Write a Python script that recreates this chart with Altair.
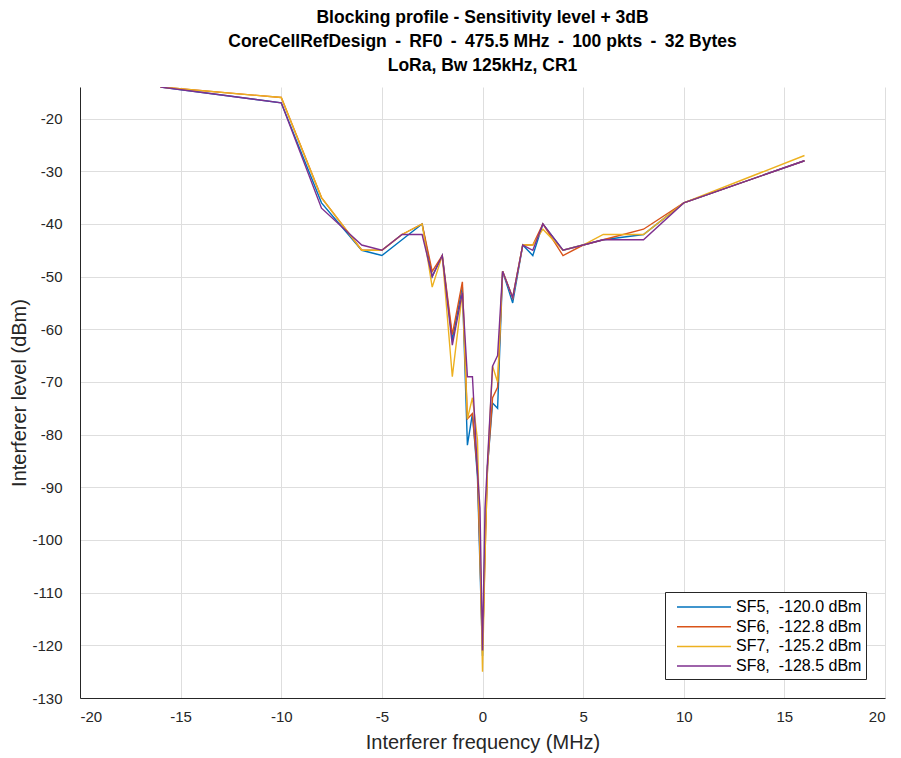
import altair as alt
import pandas as pd

# Interferer frequency offsets (MHz)
freq = [-16, -10, -8, -6, -5, -4, -3, -2.5, -2, -1.5, -1, -0.75, -0.5, -0.25, -0.125, 0,
        0.125, 0.25, 0.5, 0.75, 1, 1.5, 2, 2.5, 3, 4, 5, 6, 8, 10, 16]

# Interferer levels (dBm) per spreading factor
sf5 = [-14, -17, -36, -45, -46, -43, -40, -50, -46, -62, -52, -82, -76, -88, -105, -122,
       -100, -86, -74, -75, -49, -55, -44, -46, -40, -45, -44, -43, -42, -36, -28]
sf6 = [-14, -16, -35, -45, -45, -42, -40, -49, -46, -61, -51, -77, -76, -87, -103, -121,
       -103, -86, -73, -71, -49, -54, -44, -44, -40, -46, -44, -43, -41, -36, -28]
sf7 = [-14, -16, -35, -45, -45, -42, -40, -52, -46, -69, -53, -77, -73, -81, -101, -125,
       -103, -86, -67, -70, -49, -54, -44, -44, -41, -45, -44, -42, -42, -36, -27]
sf8 = [-14, -17, -37, -44, -45, -42, -42, -50, -46, -63, -53, -69, -69, -87, -94, -121,
       -94, -85, -67, -65, -49, -54, -44, -45, -40, -45, -44, -43, -43, -36, -28]

labels = ["SF5,\u00a0 -120.0 dBm", "SF6,\u00a0 -122.8 dBm", "SF7,\u00a0 -125.2 dBm", "SF8,\u00a0 -128.5 dBm"]
colors = ["#0072BD", "#D95319", "#EDB120", "#7E2F8E"]
series_values = [sf5, sf6, sf7, sf8]

NB = "\u00a0"
SEP = "\u2009 - \u2009"
title_lines = ["Blocking profile - Sensitivity level + 3dB" + NB * 7,
               "CoreCellRefDesign" + SEP + "RF0" + SEP + "475.5 MHz" + SEP + "100 pkts" + SEP + "32 Bytes",
               "LoRa, Bw 125kHz, CR1"]

x_ticks = [-20, -15, -10, -5, 0, 5, 10, 15, 20]
y_ticks = [-130, -120, -110, -100, -90, -80, -70, -60, -50, -40, -30, -20]

rows = []
for lab, vals in zip(labels, series_values):
    for f, v in zip(freq, vals):
        rows.append({"freq": f, "level": v, "series": lab})
df = pd.DataFrame(rows)

FONT = "Liberation Sans"

color_enc = alt.Color(
    "series:N",
    scale=alt.Scale(domain=labels, range=colors),
    legend=alt.Legend(
        title=None, orient="none", legendX=585, legendY=505,
        strokeColor="#262626", fillColor="white", padding=4,
        symbolType="M-2.7,0H2.7", symbolSize=400, symbolStrokeWidth=1.5,
        symbolOffset=24, labelOffset=21, rowPadding=0.7,
        labelFont=FONT, labelFontSize=16, labelColor="#000000",
    ),
)

x_enc = alt.X("freq:Q", scale=alt.Scale(domain=[-20, 20], nice=False),
              axis=alt.Axis(values=x_ticks, title="Interferer frequency (MHz)",
                            labelExpr="'' + datum.value",
                            labelPadding=11, titlePadding=8))
y_enc = alt.Y("level:Q", scale=alt.Scale(domain=[-130, -14], nice=False, zero=False),
              axis=alt.Axis(values=y_ticks, title="Interferer level (dBm)",
                            labelExpr="'' + datum.value",
                            labelPadding=18, titlePadding=2))

base = alt.Chart(df)
layers = [
    base.transform_filter(alt.datum.series == lab)
    .mark_line(strokeWidth=1.4, clip=True)
    .encode(x=x_enc, y=y_enc, color=color_enc)
    for lab in labels
]

chart = (
    alt.layer(*layers)
    .properties(
        width=805, height=611,
        title=alt.TitleParams(text=title_lines, font=FONT, fontSize=17.5, fontWeight="bold",
                              color="#000000", anchor="middle", lineHeight=24, offset=13),
        padding={"left": 72, "top": 79, "right": 8, "bottom": 55},
        autosize="none",
    )
    .configure_view(stroke=None)
    .configure_axis(
        labelFont=FONT, labelFontSize=15, labelColor="#262626",
        titleFont=FONT, titleFontSize=20, titleFontWeight="normal", titleColor="#262626",
        domainColor="#262626", domainWidth=1, ticks=False, tickSize=0,
        gridColor="#dedede", gridWidth=1,
    )
)

chart.save("out.html", embed_options={"renderer": "svg", "actions": False})
